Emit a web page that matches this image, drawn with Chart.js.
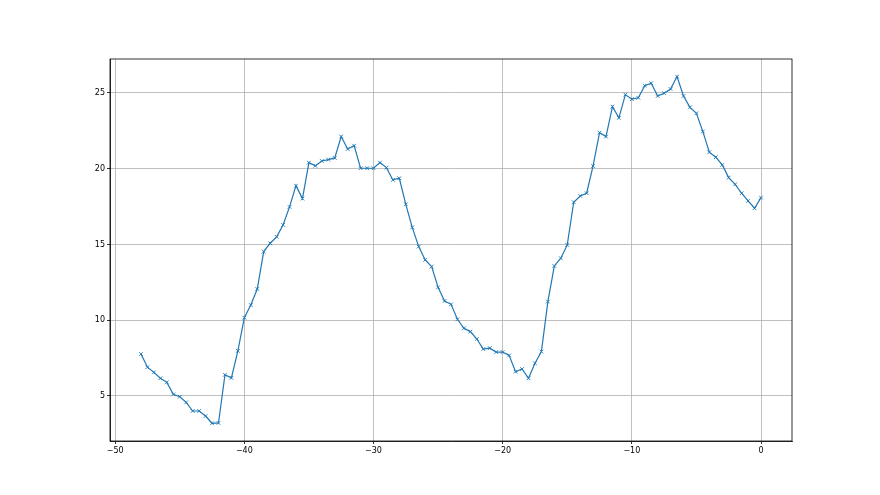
<!DOCTYPE html>
<html>
<head>
<meta charset="utf-8">
<script src="https://cdn.jsdelivr.net/npm/chart.js@4/dist/chart.umd.min.js"></script>
<style>
  html, body { margin: 0; padding: 0; background: #fff; }
  #wrap { width: 880px; height: 495px; }
</style>
</head>
<body>
<div id="wrap"><canvas id="myChart" width="880" height="495"></canvas></div>
<script>
// x positions (step 0.5) and values
let xValues = [-48, -47.5, -47, -46.5, -46, -45.5, -45, -44.5, -44, -43.5, -43, -42.5, -42, -41.5, -41, -40.5,
  -40, -39.5, -39, -38.5, -38, -37.5, -37, -36.5, -36, -35.5, -35, -34.5, -34, -33.5, -33, -32.5,
  -32, -31.5, -31, -30.5, -30, -29.5, -29, -28.5, -28, -27.5, -27, -26.5, -26, -25.5, -25, -24.5,
  -24, -23.5, -23, -22.5, -22, -21.5, -21, -20.5, -20, -19.5, -19, -18.5, -18, -17.5, -17, -16.5,
  -16, -15.5, -15, -14.5, -14, -13.5, -13, -12.5, -12, -11.5, -11, -10.5, -10, -9.5, -9, -8.5,
  -8, -7.5, -7, -6.5, -6, -5.5, -5, -4.5, -4, -3.5, -3, -2.5, -2, -1.5, -1, -0.5, 0]
let yValues = [7.77, 6.9, 6.56, 6.17, 5.9, 5.11, 4.95, 4.58, 4.01, 4.01, 3.68, 3.2, 3.22, 6.4, 6.2, 7.98,
  10.17, 11.0, 12.06, 14.53, 15.08, 15.5, 16.29, 17.48, 18.88, 18.03, 20.4, 20.19, 20.51, 20.6, 20.71, 22.12,
  21.3, 21.52, 20.03, 20.03, 20.03, 20.4, 20.07, 19.26, 19.37, 17.65, 16.13, 14.86, 13.98, 13.54, 12.17, 11.27,
  11.05, 10.06, 9.47, 9.25, 8.76, 8.1, 8.16, 7.9, 7.9, 7.68, 6.6, 6.78, 6.17, 7.16, 7.93, 11.23,
  13.58, 14.09, 14.97, 17.79, 18.2, 18.38, 20.18, 22.38, 22.12, 24.1, 23.36, 24.89, 24.59, 24.68, 25.48, 25.64,
  24.8, 24.98, 25.26, 26.08, 24.8, 24.05, 23.66, 22.45, 21.09, 20.76, 20.25, 19.41, 18.97, 18.38, 17.87, 17.39, 18.09]
let xTicks = [-50, -40, -30, -20, -10, 0]
let yTicks = [5, 10, 15, 20, 25]

let points = xValues.map((x, i) => ({ x: x, y: yValues[i] }))
let fmt = v => String(v).replace('-', '\u2212')

// top and right spines
let frame = {
  id: 'frame',
  afterDraw(chart) {
    let a = chart.chartArea, c = chart.ctx
    c.save()
    c.strokeStyle = '#000'
    c.lineWidth = 0.8
    c.strokeRect(a.left, a.top, a.right - a.left, a.bottom - a.top)
    c.restore()
  }
}

let bg = {
  id: 'bg',
  beforeDraw(chart) {
    let c = chart.ctx
    c.save()
    c.fillStyle = '#fff'
    c.fillRect(0, 0, chart.width, chart.height)
    c.restore()
  }
}

let chart = new Chart(document.getElementById('myChart').getContext('2d'), {
  type: 'scatter',
  data: {
    datasets: [{
      data: points,
      showLine: true,
      borderColor: '#1f77b4',
      backgroundColor: '#1f77b4',
      borderWidth: 1.2,
      pointStyle: 'crossRot',
      pointRadius: 2.6,
      pointBorderWidth: 0.9,
      pointHoverRadius: 2.6
    }]
  },
  options: {
    responsive: false,
    animation: false,
    layout: { padding: { left: 0, top: 59, right: 88, bottom: 0 } },
    plugins: { legend: { display: false }, tooltip: { enabled: false } },
    scales: {
      x: {
        type: 'linear',
        min: -50.4,
        max: 2.4,
        afterBuildTicks: s => { s.ticks = xTicks.map(v => ({ value: v })) },
        afterFit: s => { s.height = 54 },
        grid: { color: '#b0b0b0', lineWidth: 0.8, tickColor: '#000', tickLength: 3, tickWidth: 0.8 },
        border: { color: '#000', width: 0.8 },
        ticks: { color: '#000', font: { family: 'DejaVu Sans', size: 8 }, padding: 2, maxRotation: 0, callback: v => fmt(v) }
      },
      y: {
        min: 2.03,
        max: 27.24,
        afterBuildTicks: s => { s.ticks = yTicks.map(v => ({ value: v })) },
        afterFit: s => { s.width = 110 },
        grid: { color: '#b0b0b0', lineWidth: 0.8, tickColor: '#000', tickLength: 3, tickWidth: 0.8 },
        border: { color: '#000', width: 0.8 },
        ticks: { color: '#000', font: { family: 'DejaVu Sans', size: 8 }, padding: 2, callback: v => fmt(v) }
      }
    }
  },
  plugins: [bg, frame]
})
</script>
</body>
</html>
